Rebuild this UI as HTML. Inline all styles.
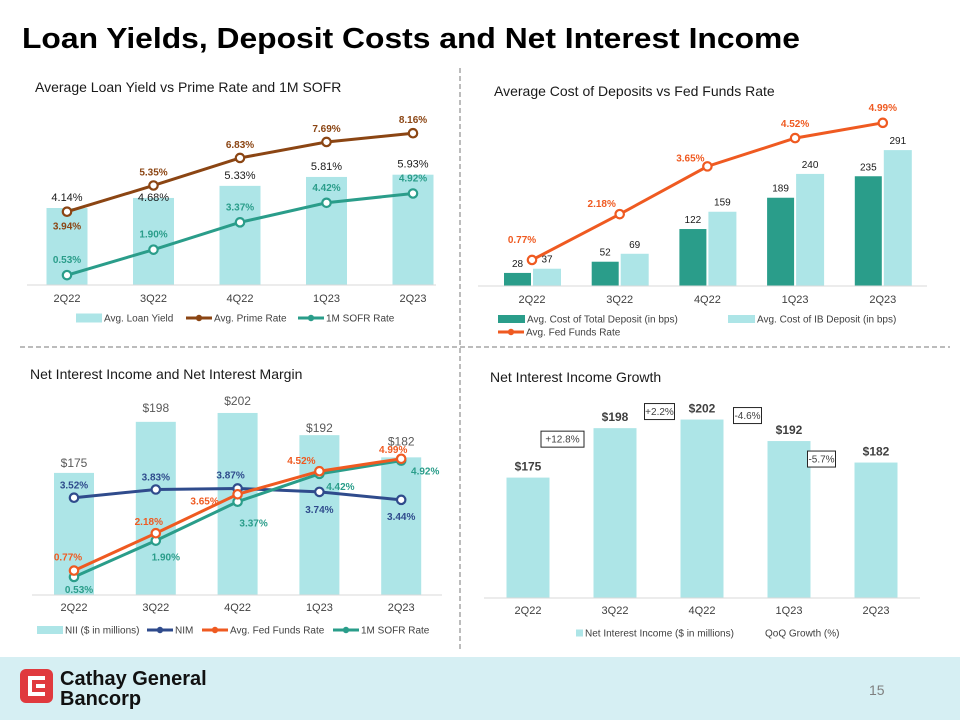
<!DOCTYPE html>
<html><head><meta charset="utf-8"><style>
html,body{margin:0;padding:0;background:#fff;}
svg{display:block;font-family:"Liberation Sans",Arial,sans-serif;}
</style></head><body>
<svg id="s" width="960" height="720" viewBox="0 0 960 720" xmlns="http://www.w3.org/2000/svg">
<rect x="0" y="657" width="960" height="63" fill="#d6eff3"/>
<text x="22" y="48" font-size="29" font-weight="bold" fill="#000" textLength="778" lengthAdjust="spacingAndGlyphs">Loan Yields, Deposit Costs and Net Interest Income</text>
<line x1="460" y1="68" x2="460" y2="652" stroke="#a6a6a6" stroke-width="1.5" stroke-dasharray="5,3"/>
<line x1="20" y1="347" x2="950" y2="347" stroke="#a6a6a6" stroke-width="1.5" stroke-dasharray="5,3"/>
<g>
<rect x="20" y="669" width="33" height="34" rx="6" fill="#e03a3e"/>
<path d="M45 676 H28 V696 H45 V692 H32 V680 H45 Z M45 684 H36 V688 H45 Z" fill="#fff"/>
<text x="60" y="685" font-size="20" font-weight="bold" fill="#111">Cathay General</text>
<text x="60" y="705" font-size="20" font-weight="bold" fill="#111">Bancorp</text>
</g>
<text x="869" y="695" font-size="14" fill="#7f7f7f">15</text>
</svg>
<script>
// ---------- data ----------
var quarters = ["2Q22","3Q22","4Q22","1Q23","2Q23"];
// chart 1
var loanYield = [4.14,4.68,5.33,5.81,5.93];
var primeRate = [3.94,5.35,6.83,7.69,8.16];
var sofr1 = [0.53,1.90,3.37,4.42,4.92];
// chart 2
var costTotalDep = [28,52,122,189,235];
var costIBDep = [37,69,159,240,291];
var fedFunds2 = [0.77,2.18,3.65,4.52,4.99];
// chart 3
var nii3 = [175,198,202,192,182];
var nim3 = [3.52,3.83,3.87,3.74,3.44];
var fedFunds3 = [0.77,2.18,3.65,4.52,4.99];
var sofr3 = [0.53,1.90,3.37,4.42,4.92];
// chart 4
var nii4 = [175,198,202,192,182];
var qoqGrowth = ["+12.8%","+2.2%","-4.6%","-5.7%"];

var NS="http://www.w3.org/2000/svg", S=document.getElementById('s');
function el(tag,attrs,parent){var e=document.createElementNS(NS,tag);for(var k in attrs)e.setAttribute(k,attrs[k]);(parent||S).appendChild(e);return e;}
function txt(x,y,s,size,fill,weight,anchor,parent){var t=el('text',{x:x,y:y,'font-size':size,fill:fill,'font-weight':weight||'normal','text-anchor':anchor||'middle'},parent);t.textContent=s;return t;}
function pct(v){return v.toFixed(2)+'%';}
var BAR='#ade5e7', TEAL='#2a9d8a', BROWN='#8b4513', ORANGE='#ef5a21', NAVY='#2f4b8c';

function line(g,xs,ys,color,name){
  var d='';for(var i=0;i<xs.length;i++)d+=(i?'L':'M')+xs[i]+' '+ys[i];
  var p=el('path',{d:d,fill:'none',stroke:color,'stroke-width':3},g);
  
  
  for(var i=0;i<xs.length;i++){
    var c=el('circle',{cx:xs[i],cy:ys[i],r:4.2,fill:'#fff',stroke:color,'stroke-width':2.2},g);
    
    
  }
}
function legLine(g,x,y,color,label,name){
  var l=el('line',{x1:x,y1:y,x2:x+26,y2:y,stroke:color,'stroke-width':3},g);
  
  
  var c=el('circle',{cx:x+13,cy:y,r:3.2,fill:color},g);
  
  
  var t=txt(x+28,y+3.5,label,10,'#404040','normal','start',g);
  
  
}
function legBox(g,x,y,w,h,color,label,name){
  var r=el('rect',{x:x,y:y-h/2,width:w,height:h,fill:color},g);
  
  
  var t=txt(x+w+2,y+3.5,label,10,'#404040','normal','start',g);
  
  
}
function axis(g,x1,x2,y,xs,ty){
  var a=el('line',{x1:x1,y1:y,x2:x2,y2:y,stroke:'#d9d9d9','stroke-width':1},g);
  
  
  for(var i=0;i<quarters.length;i++){
    var t=txt(xs[i],ty,quarters[i],11,'#404040','normal','middle',g);
    
    
  }
}

// ---------- chart 1 ----------
(function(){
  var g=el('g',{});
  
  
  var t=txt(35,92,'Average Loan Yield vs Prime Rate and 1M SOFR',14,'#1a1a1a','normal','start',g);
  
  
  function X(i){return 67+i*86.5;} function Y(v){return 285-v*18.6;}
  var xs=[],yp=[],ys=[];
  for(var i=0;i<5;i++){xs.push(X(i));yp.push(Y(primeRate[i]));ys.push(Y(sofr1[i]));}
  var lOff=[-7,3,-7,-7,-7];
  for(var i=0;i<5;i++){
    var top=Y(loanYield[i]);
    var b=el('rect',{x:X(i)-20.5,y:top,width:41,height:285-top,fill:BAR},g);
    
    
  }
  axis(g,27,436,285,xs,302);
  line(g,xs,yp,BROWN,'prime-rate');
  line(g,xs,ys,TEAL,'sofr-rate');
  for(var i=0;i<5;i++){
    var top=Y(loanYield[i]);
    var k=txt(X(i),top+lOff[i],pct(loanYield[i]),11,'#1a1a1a','normal','middle',g);
    
    
    var l=txt(X(i),i===0?yp[i]+18:yp[i]-10,pct(primeRate[i]),10,BROWN,'bold','middle',g);
    
    
    var m=txt(X(i),ys[i]-12,pct(sofr1[i]),10,TEAL,'bold','middle',g);
    
    
  }
  legBox(g,76,318,26,9,BAR,'Avg. Loan Yield','loan-yield');
  legLine(g,186,318,BROWN,'Avg. Prime Rate','prime-rate');
  legLine(g,298,318,TEAL,'1M SOFR Rate','sofr-rate');
})();

// ---------- chart 2 ----------
(function(){
  var g=el('g',{});
  
  
  var t=txt(494,96,'Average Cost of Deposits vs Fed Funds Rate',14,'#1a1a1a','normal','start',g);
  
  
  function X(i){return 532+i*87.7;} function Yb(v){return 286-v*0.467;} function Yl(v){return 285-v*32.5;}
  var xs=[],yl=[];
  for(var i=0;i<5;i++){xs.push(X(i));yl.push(Yl(fedFunds2[i]));}
  for(var i=0;i<5;i++){
    var t1=Yb(costTotalDep[i]), t2=Yb(costIBDep[i]);
    var b1=el('rect',{x:X(i)-28,y:t1,width:27,height:286-t1,fill:TEAL},g);
    
    
    var b2=el('rect',{x:X(i)+1,y:t2,width:28,height:286-t2,fill:BAR},g);
    
    
    var l1=txt(X(i)-14.5,t1-6,String(costTotalDep[i]),10,'#1a1a1a','normal','middle',g);
    
    
    var l2=txt(X(i)+15,t2-6,String(costIBDep[i]),10,'#1a1a1a','normal','middle',g);
    
    
  }
  axis(g,478,927,286,xs,303);
  line(g,xs,yl,ORANGE,'fed-funds-rate');
  var dxs=[-10,-18,-17,0,0], dys=[-17,-7,-5,-11,-12];
  for(var i=0;i<5;i++){
    var l=txt(X(i)+dxs[i],yl[i]+dys[i],pct(fedFunds2[i]),10,ORANGE,'bold','middle',g);
    
    
  }
  legBox(g,498,319,27,8,TEAL,'Avg. Cost of Total Deposit (in bps)','total-deposit');
  legBox(g,728,319,27,8,BAR,'Avg. Cost of IB Deposit (in bps)','ib-deposit');
  legLine(g,498,332,ORANGE,'Avg. Fed Funds Rate','fed-funds-rate');
})();

// ---------- chart 3 ----------
(function(){
  var g=el('g',{});
  
  
  var t=txt(30,379,'Net Interest Income and Net Interest Margin',14,'#1a1a1a','normal','start',g);
  
  
  function X(i){return 74+i*81.8;} function Yb(v){return 595-(v-120)*2.22;} function Yl(v){return 591-v*26.5;}
  var xs=[],yn=[],yf=[],ys=[];
  for(var i=0;i<5;i++){xs.push(X(i));yn.push(Yl(nim3[i]));yf.push(Yl(fedFunds3[i]));ys.push(Yl(sofr3[i]));}
  var bOff=[-6,-10,-8,-3,-12];
  for(var i=0;i<5;i++){
    var top=Yb(nii3[i]);
    var b=el('rect',{x:X(i)-20,y:top,width:40,height:595-top,fill:BAR},g);
    
    
    var l=txt(X(i),top+bOff[i],'$'+nii3[i],12,'#595959','normal','middle',g);
    
    
  }
  axis(g,32,442,595,xs,611);
  line(g,xs,yn,NAVY,'nim');
  line(g,xs,ys,TEAL,'sofr-rate');
  line(g,xs,yf,ORANGE,'fed-funds-rate');
  var nDx=[0,0,-7,0,0], nDy=[-9,-9,-10,21,20];
  var fDx=[-6,-7,-33,-18,-8], fDy=[-10,-8,10,-7,-6];
  var sDx=[5,10,16,21,24], sDy=[16,20,25,16,14];
  for(var i=0;i<5;i++){
    var a=txt(X(i)+nDx[i],yn[i]+nDy[i],pct(nim3[i]),10,NAVY,'bold','middle',g);
    
    
    var b=txt(X(i)+fDx[i],yf[i]+fDy[i],pct(fedFunds3[i]),10,ORANGE,'bold','middle',g);
    
    
    var c=txt(X(i)+sDx[i],ys[i]+sDy[i],pct(sofr3[i]),10,TEAL,'bold','middle',g);
    
    
  }
  legBox(g,37,630,26,8,BAR,'NII ($ in millions)','nii');
  legLine(g,147,630,NAVY,'NIM','nim');
  legLine(g,202,630,ORANGE,'Avg. Fed Funds Rate','fed-funds-rate');
  legLine(g,333,630,TEAL,'1M SOFR Rate','sofr-rate');
})();

// ---------- chart 4 ----------
(function(){
  var g=el('g',{});
  
  
  var t=txt(490,382,'Net Interest Income Growth',14,'#1a1a1a','normal','start',g);
  
  
  function X(i){return 528+i*87;} function Y(v){return 598-(v-119)*2.15;}
  var xs=[];for(var i=0;i<5;i++)xs.push(X(i));
  for(var i=0;i<5;i++){
    var top=Y(nii4[i]);
    var b=el('rect',{x:X(i)-21.5,y:top,width:43,height:598-top,fill:BAR},g);
    
    
    var l=txt(X(i),top-7,'$'+nii4[i],12,'#404040','bold','middle',g);
    
    
  }
  axis(g,484,920,598,xs,614);
  var bw=[43,30,28,28], bdy=[11,-8,-4,18], bdx=[-9,1,2,-11];
  for(var i=0;i<4;i++){
    var cx=(X(i)+X(i+1))/2+bdx[i];
    var cy=Math.min(Y(nii4[i]),Y(nii4[i+1]))+bdy[i];
    var r=el('rect',{x:cx-bw[i]/2,y:cy-8,width:bw[i],height:16,fill:'#fff',stroke:'#262626','stroke-width':1},g);
    
    
    var l=txt(cx,cy+3.5,qoqGrowth[i],10,'#404040','normal','middle',g);
    
    
  }
  legBox(g,576,633,7,7,BAR,'Net Interest Income ($ in millions)','nii-growth');
  var q=txt(765,636.5,'QoQ Growth (%)',10,'#404040','normal','start',g);
  
  
})();
</script>
</body></html>
